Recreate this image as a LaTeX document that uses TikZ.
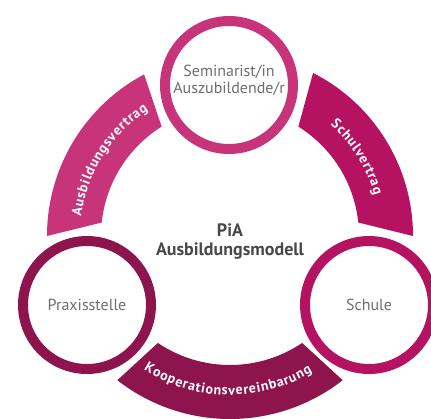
\documentclass[tikz,border=0pt]{standalone}
\usepackage{fontspec}
\setmainfont{PT Sans}
\usetikzlibrary{calc,
                decorations.text}

\definecolor{pia-pink}{RGB}{200,52,122}
\definecolor{pia-magenta}{RGB}{181,19,98}
\definecolor{pia-wine}{RGB}{142,20,78}
\definecolor{pia-gray}{RGB}{110,110,110}
\definecolor{pia-dark}{RGB}{72,72,72}

% white band lettering, slightly spaced out
\newcommand\bandfont{\fontsize{14}{14}\selectfont\bfseries\color{white}\kern0.8pt}

\begin{document}
\begin{tikzpicture}[
    x=1pt, y=1pt,
        base/.style = {circle, draw, line width=10pt, fill=white, minimum size=128pt,
                    inner sep=0pt, align=center, text=pia-gray,
                    font=\fontsize{16}{17}\selectfont},
        partner/.style = {base, draw=#1},
        title/.style = {align=center, text=pia-dark,
                    font=\fontsize{18}{18.3}\selectfont\bfseries},
        bandtext/.style = {decorate, decoration={text along path, text align=center,
                    text={|\bandfont|#1}}}
        ]

    \useasboundingbox (0,0) rectangle (431,-418);
    \coordinate (O) at (230,-236);

    % Bands between the partners
    \fill[pia-pink]    ($(O)+(118:183pt)$) arc[start angle=118, end angle=180, radius=183pt]
                    -- ($(O)+(174:129pt)$) arc[start angle=174, end angle=122, radius=129pt] -- cycle;
    \fill[pia-magenta] ($(O)+(0:183pt)$) arc[start angle=0, end angle=63, radius=183pt]
                    -- ($(O)+(58:129pt)$) arc[start angle=58, end angle=6, radius=129pt] -- cycle;
    \fill[pia-wine]    ($(O)+(232:183pt)$) arc[start angle=232, end angle=308, radius=183pt]
                    -- ($(O)+(304:129pt)$) arc[start angle=304, end angle=236, radius=129pt] -- cycle;

    % Band labels
    \path[bandtext=Ausbildungsvertrag]
        ($(O)+(178:150pt)$) arc[start angle=178, end angle=118, radius=150pt];
    \path[bandtext=Schulvertrag]
        ($(O)+(62:150pt)$) arc[start angle=62, end angle=2, radius=150pt];
    \path[bandtext=Kooperationsvereinbarung]
        ($(O)+(232:159pt)$) arc[start angle=232, end angle=306, radius=159pt];

    % Partners
    \node[partner=pia-pink, text depth=11pt] (azubi) at (229,-85) {Seminarist/in\\Auszubildende/r};
    \node[partner=pia-wine]    (praxis) at (87,-305)  {Praxisstelle};
    \node[partner=pia-magenta] (schule) at (369,-305) {Schule};

    \node[title] (modell) at (230,-241.5) {PiA\\Ausbildungsmodell};

\end{tikzpicture}
\end{document}
